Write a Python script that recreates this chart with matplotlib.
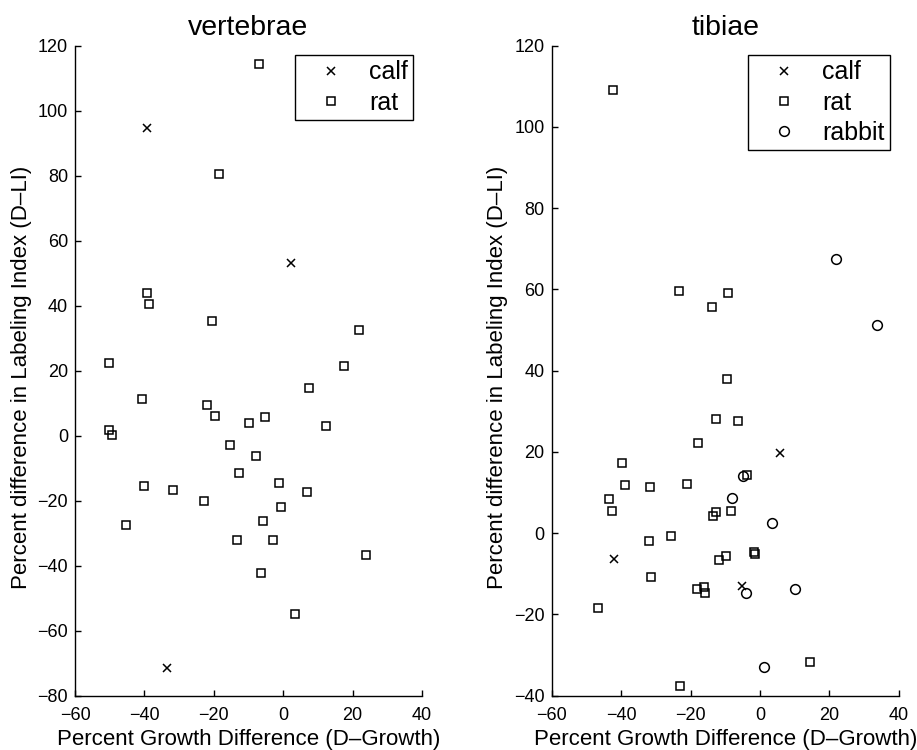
import matplotlib
matplotlib.use("Agg")
import matplotlib.pyplot as plt

plt.rcParams['font.family'] = ['Liberation Sans', 'DejaVu Sans']

# vertebrae panel
vert_calf_x = [-39.2, 2.2, -33.5]
vert_calf_y = [94.8, 53.0, -71.4]
vert_rat_x = [-6.9, -18.4, -39.3, -38.7, -20.5, 21.8, -50.2, 17.5, 7.3, -40.7,
              -21.9, -19.7, -5.2, -9.9, 12.2, -50.2, -49.4, -15.4, -7.9, -12.8,
              -40.0, -1.3, -31.8, 7.0, -22.7, -0.6, -45.2, -5.7, -13.4, -3.0,
              24.0, -6.5, 3.4]
vert_rat_y = [114.4, 80.6, 43.8, 40.6, 35.3, 32.5, 22.5, 21.5, 14.8, 11.2,
              9.4, 6.0, 5.9, 4.0, 2.9, 1.8, 0.1, -3.0, -6.2, -11.5,
              -15.4, -14.6, -16.7, -17.4, -20.1, -21.8, -27.4, -26.2, -32.2, -32.0,
              -36.8, -42.3, -55.0]

# tibiae panel
tib_calf_x = [5.7, -42.1, -5.2]
tib_calf_y = [19.7, -6.4, -12.9]
tib_rat_x = [-42.3, -23.3, -9.2, -13.8, -9.6, -12.7, -6.3, -18.0, -39.8, -3.8,
             -38.9, -31.7, -20.9, -43.6, -42.5, -12.7, -13.5, -8.5, -25.6, -32.1,
             -1.6, -1.5, -9.8, -11.7, -31.3, -18.1, -16.1, -15.9, -46.7, 14.3,
             -23.1]
tib_rat_y = [109.2, 59.6, 59.1, 55.7, 38.0, 28.1, 27.5, 22.1, 17.4, 14.4,
             11.8, 11.4, 12.2, 8.3, 5.5, 5.1, 4.2, 5.4, -0.7, -1.9,
             -4.6, -5.0, -5.5, -6.7, -10.7, -13.7, -13.2, -14.6, -18.5, -31.7,
             -37.5]
tib_rabbit_x = [21.8, 33.7, -4.8, -8.1, 3.4, -4.1, 10.1, 1.1]
tib_rabbit_y = [67.4, 51.2, 14.0, 8.6, 2.5, -14.8, -13.7, -32.9]

tick_size = 13
label_size = 16


def style_axes(ax, ylim, yticks):
  ax.set_xlim(-60, 40)
  ax.set_ylim(*ylim)
  ax.set_xticks([-60, -40, -20, 0, 20, 40])
  ax.set_yticks(yticks)
  ax.spines['top'].set_visible(False)
  ax.spines['right'].set_visible(False)
  for s in ('left', 'bottom'):
    ax.spines[s].set_linewidth(1.0)
  ax.tick_params(direction='in', length=4.5, width=1.0, labelsize=tick_size)
  ax.tick_params(axis='x', pad=8)
  ax.tick_params(axis='y', pad=5)
  ax.set_xlabel("Percent Growth Difference (D\u2013Growth)", size=label_size, labelpad=4)
  ax.set_ylabel("Percent difference in Labeling Index (D\u2013LI)", size=label_size)
  ax.yaxis.set_label_coords(-0.125, 0.49)


def add_legend(ax):
  leg = ax.legend(loc='upper right', bbox_to_anchor=(0.975, 0.986), fontsize=18,
                  frameon=True, fancybox=False, framealpha=1, edgecolor='black',
                  handlelength=2.45, handletextpad=0.3, labelspacing=0.25,
                  borderpad=0.22, borderaxespad=0)
  leg.get_frame().set_linewidth(1.0)


fig = plt.figure(figsize=(9.17, 7.5), dpi=100)
ax1 = fig.add_axes([0.0818, 0.0724, 0.3784, 0.8667])
ax2 = fig.add_axes([0.6016, 0.0724, 0.3787, 0.8667])

mk = dict(linestyle='none', color='black', markerfacecolor='none', markeredgewidth=1.1)

ax1.plot(vert_calf_x, vert_calf_y, marker='x', markersize=5.5, label='calf', **mk)
ax1.plot(vert_rat_x, vert_rat_y, marker='s', markersize=6, label='rat', **mk)
style_axes(ax1, (-80, 120), range(-80, 121, 20))
ax1.set_title("vertebrae", fontsize=20.5, pad=7.5)
add_legend(ax1)

ax2.plot(tib_calf_x, tib_calf_y, marker='x', markersize=5.5, label='calf', **mk)
ax2.plot(tib_rat_x, tib_rat_y, marker='s', markersize=6, label='rat', **mk)
ax2.plot(tib_rabbit_x, tib_rabbit_y, marker='o', markersize=7, label='rabbit', **mk)
style_axes(ax2, (-40, 120), range(-40, 121, 20))
ax2.set_title("tibiae", fontsize=20.5, pad=7.5)
add_legend(ax2)

fig.savefig("out.png", dpi=100)
